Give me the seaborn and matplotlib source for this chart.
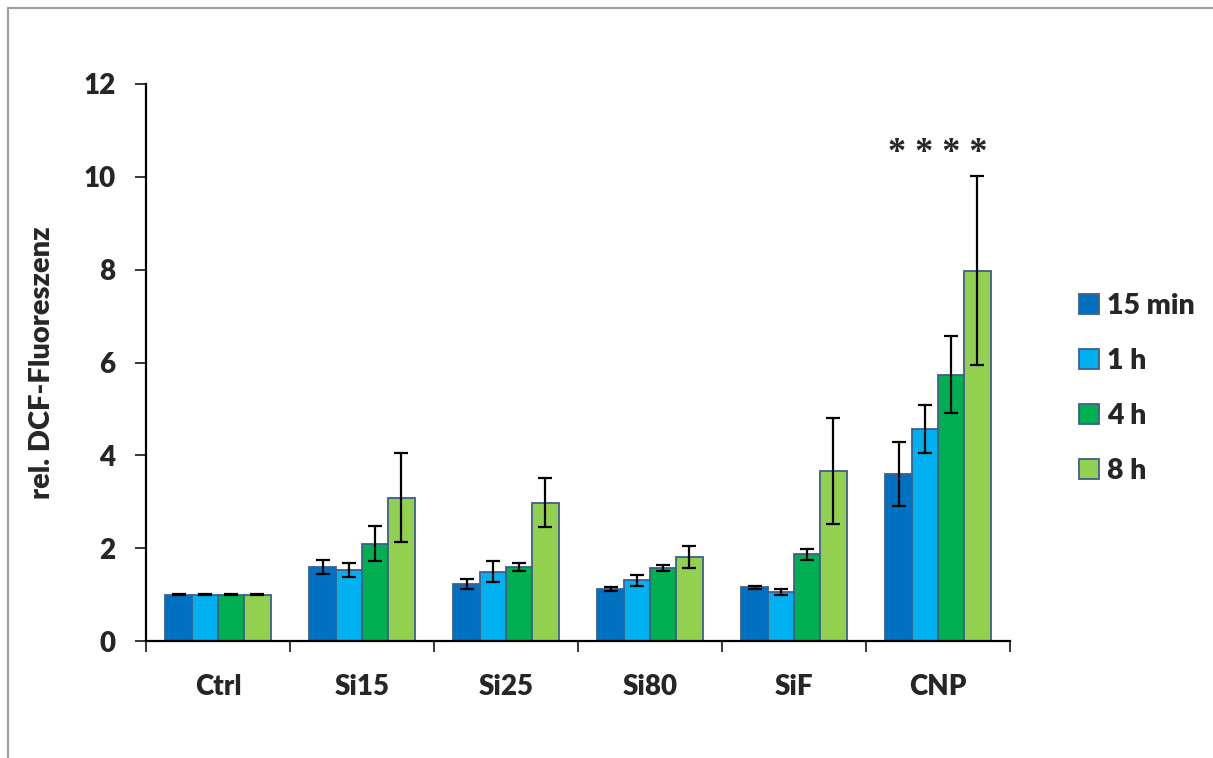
import numpy as np
import pandas as pd
import seaborn as sns
import matplotlib
matplotlib.use("Agg")
import matplotlib.pyplot as plt
from matplotlib.patches import Patch
from matplotlib.lines import Line2D

# ---- data ----
categories = ["Ctrl", "Si15", "Si25", "Si80", "SiF", "CNP"]
times = ["15 min", "1 h", "4 h", "8 h"]
val_15min = [1.00, 1.60, 1.23, 1.12, 1.16, 3.60]
val_1h = [1.00, 1.53, 1.49, 1.31, 1.05, 4.57]
val_4h = [1.00, 2.10, 1.59, 1.57, 1.87, 5.74]
val_8h = [1.00, 3.09, 2.98, 1.81, 3.66, 7.98]
err_15min = [0.01, 0.155, 0.105, 0.04, 0.035, 0.69]
err_1h = [0.01, 0.145, 0.225, 0.12, 0.06, 0.515]
err_4h = [0.01, 0.37, 0.085, 0.065, 0.12, 0.825]
err_8h = [0.01, 0.96, 0.53, 0.245, 1.135, 2.03]
y_ticks = [0, 2, 4, 6, 8, 10, 12]
y_label = "rel. DCF-Fluoreszenz"
significance = "* * * *"

colors = ["#0070C0", "#00B0F0", "#00B050", "#92D050"]
edge = "#3E5F8E"

values = [val_15min, val_1h, val_4h, val_8h]
errors = [err_15min, err_1h, err_4h, err_8h]
rows = []
for t, vals, errs in zip(times, values, errors):
    for c, v, e in zip(categories, vals, errs):
        rows.append({"cat": c, "time": t, "val": v, "err": e})
df = pd.DataFrame(rows)

sns.set_style("white")
plt.rcParams["font.family"] = ["Lato", "DejaVu Sans"]
W = "heavy"

fig = plt.figure(figsize=(12.13, 7.58), dpi=100)
ax = fig.add_axes([146 / 1213, 1 - 641 / 758, (1010 - 146) / 1213, (641 - 84) / 758])

sns.barplot(data=df, x="cat", y="val", hue="time", order=categories, hue_order=times,
            palette=colors, errorbar=None, width=0.73, gap=0, ax=ax,
            edgecolor=edge, linewidth=1.3, legend=False, saturation=1)

# error bars from the drawn bars
for container, errs in zip(ax.containers, errors):
    xs = [p.get_x() + p.get_width() / 2 for p in container.patches]
    hs = [p.get_height() for p in container.patches]
    ax.errorbar(xs, hs, yerr=errs, fmt="none", ecolor="black", elinewidth=1.6,
                capsize=5, capthick=1.6, zorder=5)

ax.set_ylim(0, 12)
ax.set_xlim(-0.5, len(categories) - 0.5)
ax.set_yticks(y_ticks)
ax.set_yticklabels([str(t) for t in y_ticks], fontsize=20, fontweight=W)
ax.set_xticks(range(len(categories)))
ax.set_xticklabels(categories, fontsize=20, fontweight=W)
ax.set_xticks(np.arange(-0.5, len(categories), 1), minor=True)
ax.tick_params(axis="x", which="major", length=0, pad=24)
ax.tick_params(axis="x", which="minor", length=8, width=1.3, direction="out", bottom=True)
ax.tick_params(axis="y", which="major", length=8, width=1.3, direction="out", left=True, pad=14)
ax.set_xlabel("")
ax.set_ylabel(y_label, fontsize=21, fontweight=W, labelpad=20)
for s in ["top", "right"]:
    ax.spines[s].set_visible(False)
for s in ["left", "bottom"]:
    ax.spines[s].set_color("black")
    ax.spines[s].set_linewidth(1.6)

ax.text(len(categories) - 1, 10.5, significance, ha="center", va="center",
        fontsize=26, fontweight="bold", family=["Liberation Serif", "DejaVu Serif"])

handles = [Patch(facecolor=c, edgecolor=edge, linewidth=1.3) for c in colors]
fig.legend(handles, times, loc="upper left", bbox_to_anchor=(1053 / 1213, 1 - 267 / 758),
           frameon=False, prop={"size": 20.5, "weight": W}, handlelength=0.7,
           handleheight=0.7, handletextpad=0.3, labelspacing=1.02)

# outer grey frame
fig.add_artist(Line2D([8 / 1213, 8 / 1213], [0, 1 - 8 / 758], color="#A0A0A0", lw=1.6,
                      transform=fig.transFigure))
fig.add_artist(Line2D([8 / 1213, 1], [1 - 8 / 758, 1 - 8 / 758], color="#A0A0A0", lw=1.6,
                      transform=fig.transFigure))

fig.savefig("out.png", dpi=100)
